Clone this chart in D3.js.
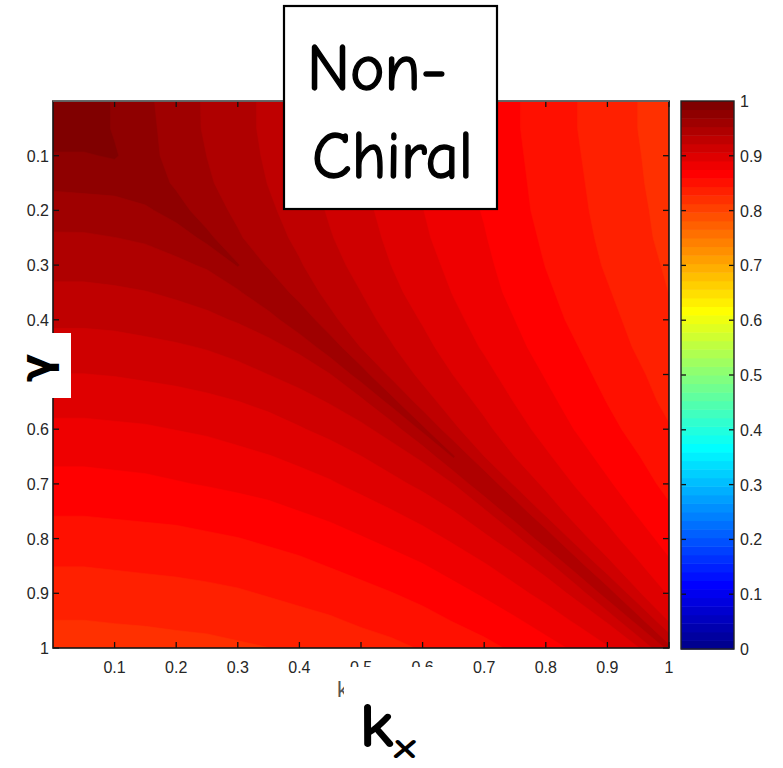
<!DOCTYPE html>
<html>
<head>
<meta charset="utf-8">
<script src="https://cdn.jsdelivr.net/npm/d3@7"></script>
<style>
  html, body { margin: 0; padding: 0; background: #fff; }
  svg { display: block; }
</style>
</head>
<body>
<svg id="chart" width="783" height="768"></svg>
<script>
// Sample positions of the field, shared by kx (across) and gamma (down)
const gridSteps = [0, 0.05, 0.1, 0.15, 0.2, 0.25, 0.3, 0.35, 0.4, 0.45, 0.5,
                   0.55, 0.6, 0.65, 0.7, 0.75, 0.8, 0.85, 0.9, 0.95, 1];

// Field values for kx <= gamma: row j is gamma = gridSteps[j], entry i is kx = gridSteps[i].
// The field is symmetric in (kx, gamma), so the other half mirrors these rows.
const fieldLower = [
  [1.000],
  [0.993, 0.993],
  [0.983, 0.983, 0.986],
  [0.972, 0.973, 0.974, 0.980],
  [0.961, 0.962, 0.963, 0.966, 0.976],
  [0.951, 0.951, 0.953, 0.955, 0.960, 0.973],
  [0.943, 0.943, 0.945, 0.947, 0.950, 0.955, 0.970],
  [0.934, 0.934, 0.935, 0.937, 0.940, 0.944, 0.951, 0.968],
  [0.925, 0.925, 0.926, 0.928, 0.931, 0.934, 0.939, 0.946, 0.966],
  [0.915, 0.915, 0.916, 0.918, 0.920, 0.923, 0.927, 0.933, 0.941, 0.963],
  [0.906, 0.906, 0.907, 0.909, 0.911, 0.913, 0.917, 0.922, 0.928, 0.937, 0.961],
  [0.896, 0.896, 0.897, 0.898, 0.900, 0.903, 0.906, 0.910, 0.916, 0.923, 0.933, 0.959],
  [0.887, 0.887, 0.888, 0.889, 0.891, 0.893, 0.896, 0.900, 0.905, 0.911, 0.918, 0.929, 0.957],
  [0.878, 0.878, 0.879, 0.880, 0.882, 0.884, 0.887, 0.890, 0.894, 0.899, 0.906, 0.914, 0.925, 0.955],
  [0.870, 0.870, 0.871, 0.872, 0.874, 0.876, 0.878, 0.881, 0.885, 0.889, 0.895, 0.902, 0.910, 0.922, 0.953],
  [0.861, 0.861, 0.862, 0.863, 0.864, 0.866, 0.869, 0.871, 0.875, 0.879, 0.884, 0.890, 0.897, 0.906, 0.919, 0.951],
  [0.852, 0.852, 0.853, 0.854, 0.855, 0.857, 0.859, 0.862, 0.865, 0.869, 0.874, 0.879, 0.885, 0.893, 0.903, 0.916, 0.950],
  [0.844, 0.844, 0.845, 0.846, 0.847, 0.849, 0.851, 0.853, 0.856, 0.860, 0.864, 0.869, 0.874, 0.881, 0.889, 0.899, 0.913, 0.948],
  [0.836, 0.836, 0.837, 0.838, 0.839, 0.840, 0.842, 0.845, 0.848, 0.851, 0.855, 0.859, 0.864, 0.870, 0.877, 0.886, 0.896, 0.911, 0.947],
  [0.828, 0.828, 0.829, 0.830, 0.831, 0.832, 0.834, 0.836, 0.839, 0.842, 0.846, 0.850, 0.854, 0.860, 0.866, 0.873, 0.882, 0.893, 0.908, 0.945],
  [0.820, 0.820, 0.821, 0.821, 0.823, 0.824, 0.826, 0.828, 0.830, 0.833, 0.837, 0.840, 0.845, 0.850, 0.855, 0.862, 0.869, 0.878, 0.889, 0.905, 0.943]
];

const axisTicks = [0.1, 0.2, 0.3, 0.4, 0.5, 0.6, 0.7, 0.8, 0.9, 1];
const axisTickLabels = ["0.1", "0.2", "0.3", "0.4", "0.5", "0.6", "0.7", "0.8", "0.9", "1"];
const colorbarTicks = [0, 0.1, 0.2, 0.3, 0.4, 0.5, 0.6, 0.7, 0.8, 0.9, 1];
const colorbarTickLabels = ["0", "0.1", "0.2", "0.3", "0.4", "0.5", "0.6", "0.7", "0.8", "0.9", "1"];
const titleLines = ["Non-", "Chiral"];
const colorLevels = 64;

// MATLAB-style jet colormap with m entries
function jetColormap(m) {
  const n = Math.ceil(m / 4);
  const u = [].concat(
    d3.range(1, n + 1).map(i => i / n),
    new Array(n - 1).fill(1),
    d3.range(n, 0, -1).map(i => i / n)
  );
  const g0 = Math.ceil(n / 2) - (m % 4 === 1 ? 1 : 0);
  const rows = Array.from({ length: m }, () => [0, 0, 0]);
  const bRows = [];
  u.forEach((val, idx) => {
    const g = g0 + idx + 1;
    const r = g + n;
    const b = g - n;
    if (r >= 1 && r <= m) rows[r - 1][0] = u[idx];
    if (g >= 1 && g <= m) rows[g - 1][1] = u[idx];
    if (b >= 1 && b <= m) bRows.push(b);
  });
  const tail = u.slice(u.length - bRows.length);
  bRows.forEach((b, k) => { rows[b - 1][2] = tail[k]; });
  return rows.map(([r, g, b]) => d3.rgb(r * 255, g * 255, b * 255).formatHex());
}
const jet = jetColormap(colorLevels);

const svg = d3.select("#chart");
const W = 783, H = 768;
svg.append("rect").attr("width", W).attr("height", H).attr("fill", "#fff");

// Plot area scales
const x = d3.scaleLinear().domain([0, 1]).range([53, 669]);
const y = d3.scaleLinear().domain([0, 1]).range([101, 648]);

// Full symmetric grid for the contour generator
const n = gridSteps.length;
const grid = new Array(n * n);
for (let j = 0; j < n; j++) {
  for (let i = 0; i < n; i++) {
    grid[j * n + i] = i <= j ? fieldLower[j][i] : fieldLower[i][j];
  }
}

// Bands are traced as "value <= level" regions (on the negated field) so that the
// crest along kx = gamma stays one connected strip instead of splitting at saddles.
const levels = d3.range(1, colorLevels + 1).map(k => k / colorLevels);
const negGrid = grid.map(v => -v);
const bands = d3.contours().size([n, n]).thresholds(levels.map(l => -l))(negGrid)
  .map(c => Object.assign(c, { level: -c.value }))
  .sort((a, b) => b.level - a.level);

// grid coordinates (sample i sits at i + 0.5) to pixels
const gx = d3.scaleLinear().domain([0.5, n - 0.5]).range([x(gridSteps[0]), x(gridSteps[n - 1])]);
const gy = d3.scaleLinear().domain([0.5, n - 0.5]).range([y(gridSteps[0]), y(gridSteps[n - 1])]);
const gridPath = d3.geoPath(d3.geoTransform({
  point(px, py) { this.stream.point(gx(px), gy(py)); }
}));

const defs = svg.append("defs");
defs.append("clipPath").attr("id", "plotClip")
  .append("rect")
  .attr("x", x(0)).attr("y", y(0))
  .attr("width", x(1) - x(0)).attr("height", y(1) - y(0));

const bandColor = b => jet[Math.max(0, Math.round(b.level * colorLevels) - 1)];
const field = svg.append("g").attr("clip-path", "url(#plotClip)");
field.append("rect")
  .attr("x", x(0)).attr("y", y(0))
  .attr("width", x(1) - x(0)).attr("height", y(1) - y(0))
  .attr("fill", jet[colorLevels - 1]);
field.selectAll("path.band")
  .data(bands.filter(b => b.coordinates.length))
  .join("path")
  .attr("class", "band")
  .attr("d", gridPath)
  .attr("fill", bandColor)
  .attr("stroke", bandColor)
  .attr("stroke-width", 0.6);

// Ticks on all four sides, pointing inward
const tickLen = 6;
const axisG = svg.append("g").attr("stroke", "#111").attr("stroke-width", 1.3);
axisTicks.forEach(t => {
  axisG.append("line").attr("x1", x(t)).attr("x2", x(t)).attr("y1", y(1)).attr("y2", y(1) - tickLen);
  axisG.append("line").attr("x1", x(t)).attr("x2", x(t)).attr("y1", y(0)).attr("y2", y(0) + tickLen);
  axisG.append("line").attr("x1", x(0)).attr("x2", x(0) + tickLen).attr("y1", y(t)).attr("y2", y(t));
  axisG.append("line").attr("x1", x(1)).attr("x2", x(1) - tickLen).attr("y1", y(t)).attr("y2", y(t));
});

// Axis box
svg.append("rect")
  .attr("x", x(0)).attr("y", y(0))
  .attr("width", x(1) - x(0)).attr("height", y(1) - y(0))
  .attr("fill", "none").attr("stroke", "#151515").attr("stroke-width", 1.6);
svg.append("line")
  .attr("x1", x(0)).attr("x2", x(1)).attr("y1", y(0)).attr("y2", y(0))
  .attr("stroke", "#777").attr("stroke-width", 1.6);

const tickFont = "16px 'Liberation Sans', Arial, Helvetica, sans-serif";
const tickColor = "#262626";

// x tick labels
svg.append("g").selectAll("text")
  .data(axisTicks)
  .join("text")
  .attr("x", d => x(d))
  .attr("y", 673)
  .attr("text-anchor", "middle")
  .style("font", tickFont)
  .attr("fill", tickColor)
  .text((d, i) => axisTickLabels[i]);

// y tick labels
svg.append("g").selectAll("text")
  .data(axisTicks)
  .join("text")
  .attr("x", 49)
  .attr("y", d => y(d) + 6)
  .attr("text-anchor", "end")
  .style("font", tickFont)
  .attr("fill", tickColor)
  .text((d, i) => axisTickLabels[i]);

// Colorbar
const cbX = 681, cbW = 53;
const cbY = d3.scaleLinear().domain([0, 1]).range([649, 101]);
svg.append("g").selectAll("rect")
  .data(d3.range(colorLevels))
  .join("rect")
  .attr("x", cbX)
  .attr("y", k => cbY((k + 1) / colorLevels))
  .attr("width", cbW)
  .attr("height", k => cbY(k / colorLevels) - cbY((k + 1) / colorLevels) + 0.5)
  .attr("fill", k => jet[k]);
const cbTickG = svg.append("g").attr("stroke", "#111").attr("stroke-width", 1.3);
colorbarTicks.filter(t => t > 0 && t < 1).forEach(t => {
  cbTickG.append("line").attr("x1", cbX).attr("x2", cbX + 5).attr("y1", cbY(t)).attr("y2", cbY(t));
  cbTickG.append("line").attr("x1", cbX + cbW).attr("x2", cbX + cbW - 5).attr("y1", cbY(t)).attr("y2", cbY(t));
});
svg.append("rect")
  .attr("x", cbX).attr("y", cbY(1))
  .attr("width", cbW).attr("height", cbY(0) - cbY(1))
  .attr("fill", "none").attr("stroke", "#222").attr("stroke-width", 1.4);
svg.append("g").selectAll("text")
  .data(colorbarTicks)
  .join("text")
  .attr("x", 740)
  .attr("y", d => cbY(d) + 6)
  .style("font", tickFont)
  .attr("fill", tickColor)
  .text((d, i) => colorbarTickLabels[i]);

// Title box
const handFont = "'Comic Sans MS', 'Comic Neue', 'DejaVu Sans', sans-serif";
svg.append("rect")
  .attr("x", 284).attr("y", 6).attr("width", 213).attr("height", 203)
  .attr("fill", "#fff").attr("stroke", "#000").attr("stroke-width", 2.2);
const titleText = [
  { x: 307, y: 90, len: 140 },
  { x: 312, y: 178, len: 161 }
];
titleLines.forEach((line, i) => {
  svg.append("text")
    .attr("x", titleText[i].x).attr("y", titleText[i].y)
    .attr("textLength", titleText[i].len).attr("lengthAdjust", "spacingAndGlyphs")
    .style("font-family", handFont).style("font-size", "66px")
    .attr("fill", "#000").attr("stroke", "#000").attr("stroke-width", 1.4)
    .attr("stroke-linejoin", "round")
    .text(line);
});

// x-axis label: a small original label stub, then the large label on a white patch
svg.append("text")
  .attr("x", 337).attr("y", 697)
  .style("font", "22px 'Liberation Sans', Arial, sans-serif")
  .attr("fill", "#555")
  .text("k");
svg.append("rect").attr("x", 344).attr("y", 667).attr("width", 106).attr("height", 101).attr("fill", "#fff");
svg.append("text")
  .attr("x", 359).attr("y", 747)
  .attr("textLength", 35).attr("lengthAdjust", "spacingAndGlyphs")
  .style("font-family", handFont).style("font-size", "64px").style("font-weight", "bold")
  .attr("fill", "#000")
  .text("k");
svg.append("text")
  .attr("x", 394).attr("y", 758)
  .attr("textLength", 22).attr("lengthAdjust", "spacingAndGlyphs")
  .style("font-family", handFont).style("font-size", "36px").style("font-weight", "bold")
  .attr("fill", "#000")
  .text("x");

// y-axis label on its white patch
svg.append("rect").attr("x", 0).attr("y", 333).attr("width", 71).attr("height", 65).attr("fill", "#fff");
svg.append("text")
  .attr("transform", "translate(42,368) rotate(-90)")
  .attr("text-anchor", "middle")
  .attr("dy", "0.2em")
  .style("font-family", handFont).style("font-size", "42px").style("font-weight", "bold")
  .attr("fill", "#000")
  .text("γ");
</script>
</body>
</html>
